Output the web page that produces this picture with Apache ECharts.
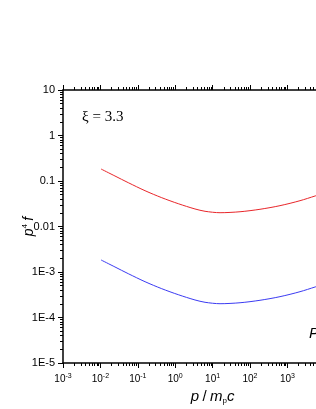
<!DOCTYPE html>
<html><head><meta charset="utf-8">
<script src="https://cdn.jsdelivr.net/npm/echarts@6/dist/echarts.min.js"></script>
<style>html,body{margin:0;padding:0;background:#fff}#c{width:316px;height:409px}</style>
</head><body><div id="c"></div>
<script>
// x values (p / m_p c)
var pValues = [0.0104, 0.0245, 0.0557, 0.156, 0.436, 1.21, 3.38, 6.27, 15.8, 54.1, 185, 634, 2173, 5470, 8000];
// p^4 f, upper (red) curve
var redValues = [0.1836, 0.1288, 0.0918, 0.0612, 0.0430, 0.0317, 0.0243, 0.0216, 0.0201, 0.0211, 0.0239, 0.0287, 0.0369, 0.0468, 0.052];
// p^4 f, lower (blue) curve
var blueValues = [0.00184, 0.00129, 0.000918, 0.000612, 0.000430, 0.000317, 0.000243, 0.000216, 0.000201, 0.000211, 0.000239, 0.000287, 0.000369, 0.000468, 0.00052];
var yTickValues = [1e-5, 1e-4, 1e-3, 0.01, 0.1, 1, 10];
var yTickLabels = ['1E-5', '1E-4', '1E-3', '0.01', '0.1', '1', '10'];
var xMin = 1e-3, xMax = 1e5, yMin = 1e-5, yMax = 10;

function minorValues(lo, hi) {
  var out = [];
  for (var d = lo; d < hi; d *= 10) {
    for (var k = 2; k <= 9; k++) out.push(+(k * d).toPrecision(3));
  }
  return out;
}
var xMinor = minorValues(xMin, xMax);
var yMinor = minorValues(yMin, yMax);

var chart = echarts.init(document.getElementById('c'), null, {renderer: 'canvas'});
var black = '#000';
function baseX(extra) {
  var o = {type: 'log', logBase: 10, min: xMin, max: xMax, splitLine: {show: false},
    axisLine: {show: true, onZero: false, lineStyle: {color: black, width: 1.5}},
    axisLabel: {show: false}, axisTick: {show: false}};
  for (var k in extra) o[k] = extra[k];
  return o;
}
function baseY(extra) {
  var o = {type: 'log', logBase: 10, min: yMin, max: yMax, splitLine: {show: false},
    axisLine: {show: true, onZero: false, lineStyle: {color: black, width: 1.5}},
    axisLabel: {show: false}, axisTick: {show: false}};
  for (var k in extra) o[k] = extra[k];
  return o;
}
var option = {
  animation: false,
  grid: {left: 63, top: 90, width: 299.2, height: 273, containLabel: false, outerBoundsMode: 'none'},
  xAxis: [
    baseX({position: 'bottom',
      name: '{i|p} {n|/} {i|m}{sub|p}{i|c}', nameLocation: 'middle', nameGap: 26, nameMoveOverlap: false,
      nameTextStyle: {rich: {
        i: {fontFamily: 'Liberation Sans', fontStyle: 'italic', fontSize: 15, color: black},
        n: {fontFamily: 'Liberation Sans', fontSize: 15, color: black},
        sub: {fontFamily: 'Liberation Sans', fontSize: 8, color: black, verticalAlign: 'bottom', padding: [8, 0, 0, 0]}
      }},
      axisTick: {show: true, inside: false, length: 5, lineStyle: {color: black, width: 1}},
      axisLabel: {show: true, margin: 10, formatter: function (v) {
        var e = Math.round(Math.log10(v));
        return '{b|10}{s|' + e + '}';
      }, rich: {
        b: {fontFamily: 'Liberation Sans', fontSize: 10, color: black},
        s: {fontFamily: 'Liberation Sans', fontSize: 7, color: black, verticalAlign: 'top', padding: [0, 0, 6, 0]}
      }}
    }),
    baseX({position: 'bottom', axisLine: {show: false},
      axisTick: {show: true, inside: false, length: 3, customValues: xMinor, lineStyle: {color: black, width: 1}}}),
    baseX({position: 'top',
      axisTick: {show: true, inside: false, length: 5, lineStyle: {color: black, width: 1}}}),
    baseX({position: 'top', axisLine: {show: false},
      axisTick: {show: true, inside: false, length: 3, customValues: xMinor, lineStyle: {color: black, width: 1}}})
  ],
  yAxis: [
    baseY({position: 'left',
      name: '{i|p}{sup|4} {i|f}', nameLocation: 'middle', nameGap: 26, nameRotate: 90, nameMoveOverlap: false,
      nameTextStyle: {rich: {
        i: {fontFamily: 'Liberation Sans', fontStyle: 'italic', fontSize: 14, color: black},
        sup: {fontFamily: 'Liberation Sans', fontSize: 8, color: black, verticalAlign: 'top', padding: [0, 0, 8, 0]}
      }},
      axisTick: {show: true, inside: false, length: 5, lineStyle: {color: black, width: 1}},
      axisLabel: {show: true, margin: 8, fontFamily: 'Liberation Sans', fontSize: 11, color: black,
        formatter: function (v) {
          for (var i = 0; i < yTickValues.length; i++) {
            if (Math.abs(Math.log10(v) - Math.log10(yTickValues[i])) < 1e-6) return yTickLabels[i];
          }
          return '';
        }}
    }),
    baseY({position: 'left', axisLine: {show: false},
      axisTick: {show: true, inside: false, length: 3, customValues: yMinor, lineStyle: {color: black, width: 1}}})
  ],
  series: [
    {type: 'line', xAxisIndex: 0, yAxisIndex: 0, showSymbol: false, symbol: 'none', smooth: 0.3,
      data: pValues.map(function (x, i) { return [x, redValues[i]]; }),
      lineStyle: {color: '#e8262a', width: 1}},
    {type: 'line', xAxisIndex: 0, yAxisIndex: 0, showSymbol: false, symbol: 'none', smooth: 0.3,
      data: pValues.map(function (x, i) { return [x, blueValues[i]]; }),
      lineStyle: {color: '#3b3bf2', width: 1}}
  ],
  graphic: [
    {type: 'text', left: 82, top: 110, style: {text: 'ξ = 3.3', font: '15px "Liberation Serif"', fill: black}},
    {type: 'text', left: 309, top: 326, style: {text: 'P', font: 'italic 15px "Liberation Sans"', fill: black}}
  ]
};
chart.setOption(option);
</script>
</body></html>
